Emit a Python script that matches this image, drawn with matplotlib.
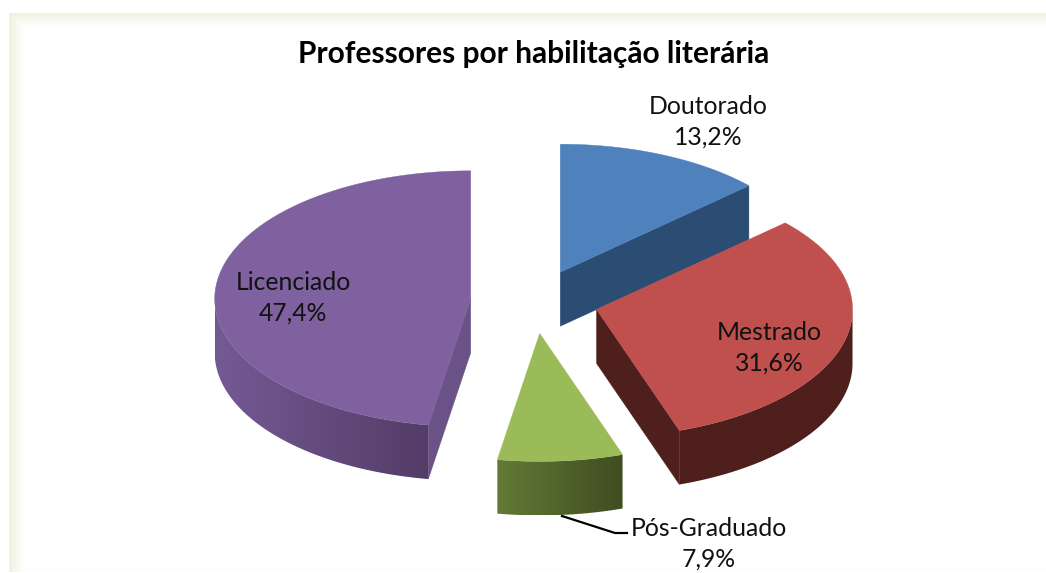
import numpy as np
import matplotlib

matplotlib.use("Agg")
import matplotlib.pyplot as plt
from matplotlib.colors import LinearSegmentedColormap, to_rgb
from matplotlib.patches import Polygon

categorias = ["Doutorado", "Mestrado", "Pós-Graduado", "Licenciado"]
valores = [13.2, 31.6, 7.9, 47.4]
explosao = [0.25, 0.25, 0.25, 0.25]
titulo = "Professores por habilitação literária"

cor_topo = ["#4f81bd", "#bf504d", "#9bbb59", "#7f619f"]
cor_corte = ["#2c4d73", "#4e1f1c", "#4a5a2a", "#6a5287"]
cor_lado_esq = ["#2c4d73", "#4e1f1c", "#637a37", "#745a94"]
cor_lado_dir = ["#2c4d73", "#4e1f1c", "#3f4d20", "#533c67"]
pos_rotulo = [(708.5, 122), (769, 348), (709, 543.5), (293, 298)]

CX, CY = 534.5, 301.5
RX, RY = 256, 128
ALTURA = 54


def ponto(cx, cy, ang):
    return cx + RX * np.sin(ang), cy - RY * np.cos(ang)


def fundo(ax):
    # moldura esverdeada muito clara, em cima e a esquerda
    h, w = 573, 1046
    img = np.ones((h, w, 3))
    verde = 1 - np.array(to_rgb("#eef2df"))
    yy, xx = np.mgrid[0:h, 0:w]
    dentro = (xx >= 9) & (yy >= 13) & (yy < 572)
    topo = np.clip(1 - (yy - 13) / 13, 0, 1)
    esq = np.clip(1 - (xx - 9) / 14, 0, 1)
    baixo = 0.1 * np.clip(1 - (572 - yy) / 10, 0, 1)
    forca = (np.maximum.reduce([topo, esq, baixo]) * dentro)[..., None]
    img = img - verde * forca
    ax.imshow(img, extent=(0, w, h, 0), aspect="auto", zorder=0)


def fatia(ax, i, ini, fim):
    meio = (ini + fim) / 2
    dx, dy = ponto(0, 0, meio)
    cx, cy = CX + explosao[i] * dx, CY + explosao[i] * dy

    # faces do corte
    for ang, visivel in ((ini, -np.sin(ini) > 0), (fim, np.sin(fim) > 0)):
        if visivel:
            px, py = ponto(cx, cy, ang)
            ax.fill(
                [cx, px, px, cx],
                [cy, py, py + ALTURA, cy + ALTURA],
                color=cor_corte[i],
                lw=0.3,
                zorder=2,
            )

    # lado exterior com gradiente
    a0, a1 = max(ini, np.pi / 2), min(fim, 3 * np.pi / 2)
    if a1 > a0:
        angs = np.linspace(a0, a1, 120)
        xs, ys = ponto(cx, cy, angs)
        contorno = np.r_[np.c_[xs, ys], np.c_[xs[::-1], ys[::-1] + ALTURA]]
        clip = Polygon(contorno, transform=ax.transData)
        cmap = LinearSegmentedColormap.from_list("lado", [cor_lado_esq[i], cor_lado_dir[i]])
        im = ax.imshow(
            np.linspace(0, 1, 256)[None, :],
            extent=(xs.min(), xs.max(), ys.max() + ALTURA, ys.min()),
            cmap=cmap,
            aspect="auto",
            zorder=2,
        )
        im.set_clip_path(clip)

    # topo
    angs = np.linspace(ini, fim, 200)
    xs, ys = ponto(cx, cy, angs)
    ax.fill(np.r_[cx, xs], np.r_[cy, ys], color=cor_topo[i], lw=0.3, zorder=2)


plt.rcParams["font.family"] = ["Lato", "DejaVu Sans"]
fig = plt.figure(figsize=(10.46, 5.73), dpi=100)
ax = fig.add_axes([0, 0, 1, 1])
fundo(ax)

fracoes = np.array(valores) / sum(valores)
limites = np.r_[0, np.cumsum(fracoes)] * 2 * np.pi
for i in range(len(valores)):
    fatia(ax, i, limites[i], limites[i + 1])

ax.plot([562, 615, 627], [516, 533, 533], color="black", lw=1.6, zorder=3)

for nome, v, (x, y) in zip(categorias, valores, pos_rotulo):
    rotulo = f"{nome}\n{v:.1f}%".replace(".", ",")
    ax.text(x, y, rotulo, ha="center", va="center", fontsize=17.8, color="#111111", linespacing=1.4, zorder=4)

ax.text(534, 54, titulo, ha="center", va="center", fontsize=21.5, fontweight="bold", color="black", zorder=4)

ax.set_xlim(0, 1046)
ax.set_ylim(573, 0)
ax.axis("off")
fig.savefig("out.png", dpi=100)
